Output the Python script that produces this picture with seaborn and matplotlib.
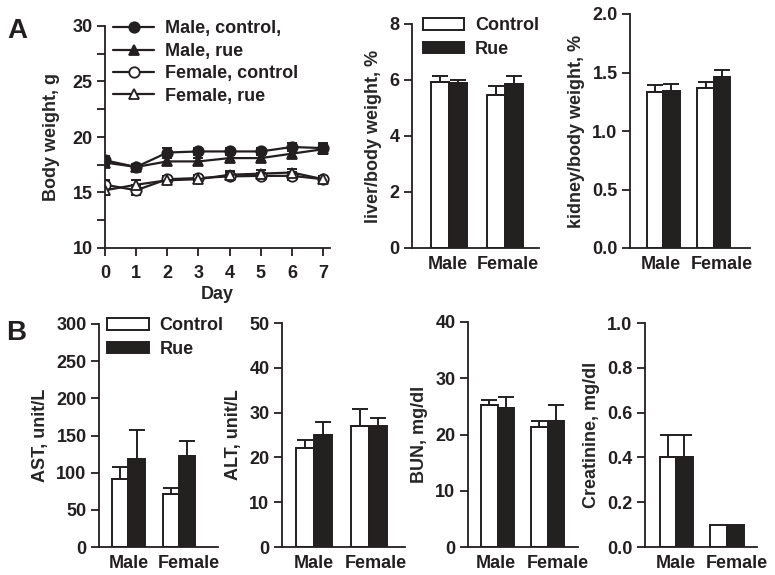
import matplotlib
matplotlib.use('Agg')
import numpy as np
import pandas as pd
import matplotlib.pyplot as plt
import matplotlib.transforms as mtransforms
import seaborn as sns

# body weight over time (mean, sem)
days = [0, 1, 2, 3, 4, 5, 6, 7]
male_ctrl = [17.9, 17.3, 18.6, 18.7, 18.7, 18.7, 19.1, 19.0]
male_ctrl_err = [0.35, 0.3, 0.4, 0.35, 0.3, 0.35, 0.35, 0.5]
male_rue = [17.7, 17.3, 17.8, 17.8, 18.1, 18.1, 18.5, 18.9]
male_rue_err = [0.35, 0.3, 0.35, 0.35, 0.3, 0.3, 0.3, 0.4]
female_ctrl = [15.7, 15.2, 16.2, 16.3, 16.45, 16.5, 16.5, 16.2]
female_ctrl_err = [0.4, 0.45, 0.3, 0.3, 0.3, 0.3, 0.35, 0.3]
female_rue = [15.2, 15.7, 16.1, 16.2, 16.6, 16.7, 16.8, 16.2]
female_rue_err = [0.4, 0.4, 0.3, 0.3, 0.3, 0.3, 0.35, 0.3]

sexes = ['Male', 'Female']
groups = ['Control', 'Rue']

liver_ctrl, liver_ctrl_err = [5.94, 5.45], [0.21, 0.32]
liver_rue, liver_rue_err = [5.91, 5.86], [0.09, 0.29]
kidney_ctrl, kidney_ctrl_err = [1.33, 1.37], [0.06, 0.05]
kidney_rue, kidney_rue_err = [1.345, 1.46], [0.055, 0.06]
ast_ctrl, ast_ctrl_err = [91, 71], [17, 8]
ast_rue, ast_rue_err = [118, 122], [39, 21]
alt_ctrl, alt_ctrl_err = [22.0, 26.9], [1.9, 4.0]
alt_rue, alt_rue_err = [25.1, 27.1], [2.7, 1.8]
bun_ctrl, bun_ctrl_err = [25.2, 21.4], [0.9, 1.0]
bun_rue, bun_rue_err = [24.8, 22.4], [1.9, 2.8]
crea_ctrl, crea_ctrl_err = [0.4, 0.1], [0.1, 0.0]
crea_rue, crea_rue_err = [0.4, 0.1], [0.1, 0.0]

BLACK = '#231f20'
FS = 13

sns.set_style('ticks')
plt.rcParams['font.family'] = ['Liberation Sans', 'DejaVu Sans']
plt.rcParams['font.weight'] = 'bold'
plt.rcParams['axes.labelweight'] = 'bold'
plt.rcParams['axes.linewidth'] = 1.3
plt.rcParams['axes.edgecolor'] = BLACK
plt.rcParams['text.color'] = BLACK
plt.rcParams['xtick.color'] = BLACK
plt.rcParams['ytick.color'] = BLACK

W, H = 775, 575
fig = plt.figure(figsize=(7.75, 5.75), dpi=100)


def add_ax(left, right, top, bottom):
    return fig.add_axes([left / W, 1 - bottom / H, (right - left) / W, (bottom - top) / H])


def style_ax(ax):
    sns.despine(ax=ax)
    ax.tick_params(axis='y', direction='out', length=6, width=1.3, labelsize=FS, pad=3)
    ax.tick_params(axis='y', which='minor', direction='out', length=6, width=1.3)
    for lab in ax.get_yticklabels() + ax.get_xticklabels():
        lab.set_fontweight('bold')


# ---- A: body weight line plot
ax = add_ax(105, 330, 26, 248)
series = [
    (male_ctrl, male_ctrl_err, 'o', BLACK, 'Male, control,'),
    (male_rue, male_rue_err, '^', BLACK, 'Male, rue'),
    (female_ctrl, female_ctrl_err, 'o', 'white', 'Female, control'),
    (female_rue, female_rue_err, '^', 'white', 'Female, rue'),
]
for vals, err, mk, fc, lab in series:
    ax.errorbar(days, vals, yerr=err, fmt='none', ecolor=BLACK, elinewidth=1.4, capsize=3.5, capthick=1.4)
for vals, err, mk, fc, lab in series:
    sns.lineplot(x=days, y=vals, ax=ax, color=BLACK, lw=1.6, marker=mk, markersize=7.5,
                 markerfacecolor=fc, markeredgecolor=BLACK, markeredgewidth=1.3, label=lab)
ax.set_xlim(0, 7.22)
ax.set_ylim(10, 30)
ax.set_yticks([10, 15, 20, 25, 30])
ax.set_yticks([12.5, 17.5, 22.5, 27.5], minor=True)
ax.set_xticks(days)
ax.set_xlabel('Day', fontsize=FS, labelpad=3)
ax.set_ylabel('Body weight, g', fontsize=FS, labelpad=9)
style_ax(ax)
ax.tick_params(axis='x', direction='out', length=6, width=1.3, labelsize=FS, pad=6)
for lab in ax.get_xticklabels():
    lab.set_fontweight('bold')
ax.legend(loc='upper left', bbox_to_anchor=(0.035, 1.025), frameon=False, borderpad=0,
          borderaxespad=0, handlelength=2.3, handletextpad=0.6, labelspacing=0.3,
          prop={'size': FS, 'weight': 'bold'})


def bar_panel(box, ctrl, ctrl_err, rue, rue_err, ylim, yticks, ylabel, xlim, fmt=None,
              legend_anchor=None, label_dx=(0, 6)):
    ax = add_ax(*box)
    df = pd.DataFrame({
        'sex': sexes * 2,
        'group': [groups[0]] * 2 + [groups[1]] * 2,
        'value': list(ctrl) + list(rue),
    })
    errs = {groups[0]: ctrl_err, groups[1]: rue_err}
    sns.barplot(data=df, x='sex', y='value', hue='group', order=sexes, hue_order=groups,
                palette={'Control': 'white', 'Rue': BLACK}, edgecolor=BLACK, linewidth=1.4,
                width=0.65, gap=0, errorbar=None, ax=ax, legend=legend_anchor is not None)
    for cont, g in zip(ax.containers, groups):
        for bar, e in zip(cont, errs[g]):
            if e > 0:
                xc = bar.get_x() + bar.get_width() / 2
                ax.errorbar([xc], [bar.get_height()], yerr=[[0], [e]], fmt='none',
                            ecolor=BLACK, elinewidth=1.4, capsize=5.5, capthick=1.4, zorder=1)
    ax.set_xlim(*xlim)
    ax.set_ylim(*ylim)
    ax.set_yticks(yticks)
    if fmt:
        ax.set_yticklabels([fmt.format(t) for t in yticks])
    ax.set_xlabel('')
    ax.set_ylabel(ylabel, fontsize=FS, labelpad=5)
    style_ax(ax)
    ax.tick_params(axis='x', length=0, labelsize=FS, pad=6)
    for lab, dx in zip(ax.get_xticklabels(), label_dx):
        lab.set_fontweight('bold')
        lab.set_transform(lab.get_transform() +
                          mtransforms.ScaledTranslation(dx / 100, 0, fig.dpi_scale_trans))
    if legend_anchor is not None:
        h, l = ax.get_legend_handles_labels()
        ax.legend(h, l, loc='upper left', bbox_to_anchor=legend_anchor, frameon=False,
                  borderpad=0, borderaxespad=0, handlelength=2.3, handleheight=0.6,
                  handletextpad=0.6, labelspacing=0.35, prop={'size': FS, 'weight': 'bold'})
    return ax


bar_panel((412, 539, 24, 248), liver_ctrl, liver_ctrl_err, liver_rue, liver_rue_err,
          (0, 8), [0, 2, 4, 6, 8], 'liver/body weight, %', (-0.66, 1.61),
          legend_anchor=(0.085, 1.03), label_dx=(-1, 3))
bar_panel((630, 750, 14, 248), kidney_ctrl, kidney_ctrl_err, kidney_rue, kidney_rue_err,
          (0, 2), [0, 0.5, 1.0, 1.5, 2.0], 'kidney/body weight, %', (-0.65, 1.71), fmt='{:.1f}',
          label_dx=(-2, 8))
bar_panel((99, 218, 324, 547), ast_ctrl, ast_ctrl_err, ast_rue, ast_rue_err,
          (0, 300), [0, 50, 100, 150, 200, 250, 300], 'AST, unit/L', (-0.58, 1.77),
          legend_anchor=(0.067, 1.03), label_dx=(0, 10))
bar_panel((282, 405, 323, 547), alt_ctrl, alt_ctrl_err, alt_rue, alt_rue_err,
          (0, 50), [0, 10, 20, 30, 40, 50], 'ALT, unit/L', (-0.59, 1.66), label_dx=(0, 7))
bar_panel((468, 578, 322, 547), bun_ctrl, bun_ctrl_err, bun_rue, bun_rue_err,
          (0, 40), [0, 10, 20, 30, 40], 'BUN, mg/dl', (-0.59, 1.61), label_dx=(-2, 10))
bar_panel((645, 757, 323, 547), crea_ctrl, crea_ctrl_err, crea_rue, crea_rue_err,
          (0, 1), [0, 0.2, 0.4, 0.6, 0.8, 1.0], 'Creatinine, mg/dl', (-0.61, 1.59), fmt='{:.1f}',
          label_dx=(0, 10))

fig.text(7 / W, 1 - 18 / H, 'A', fontsize=20, fontweight='bold', va='top', ha='left')
fig.text(6 / W, 1 - 320 / H, 'B', fontsize=20, fontweight='bold', va='top', ha='left')

fig.savefig('out.png', dpi=100, facecolor='white')
